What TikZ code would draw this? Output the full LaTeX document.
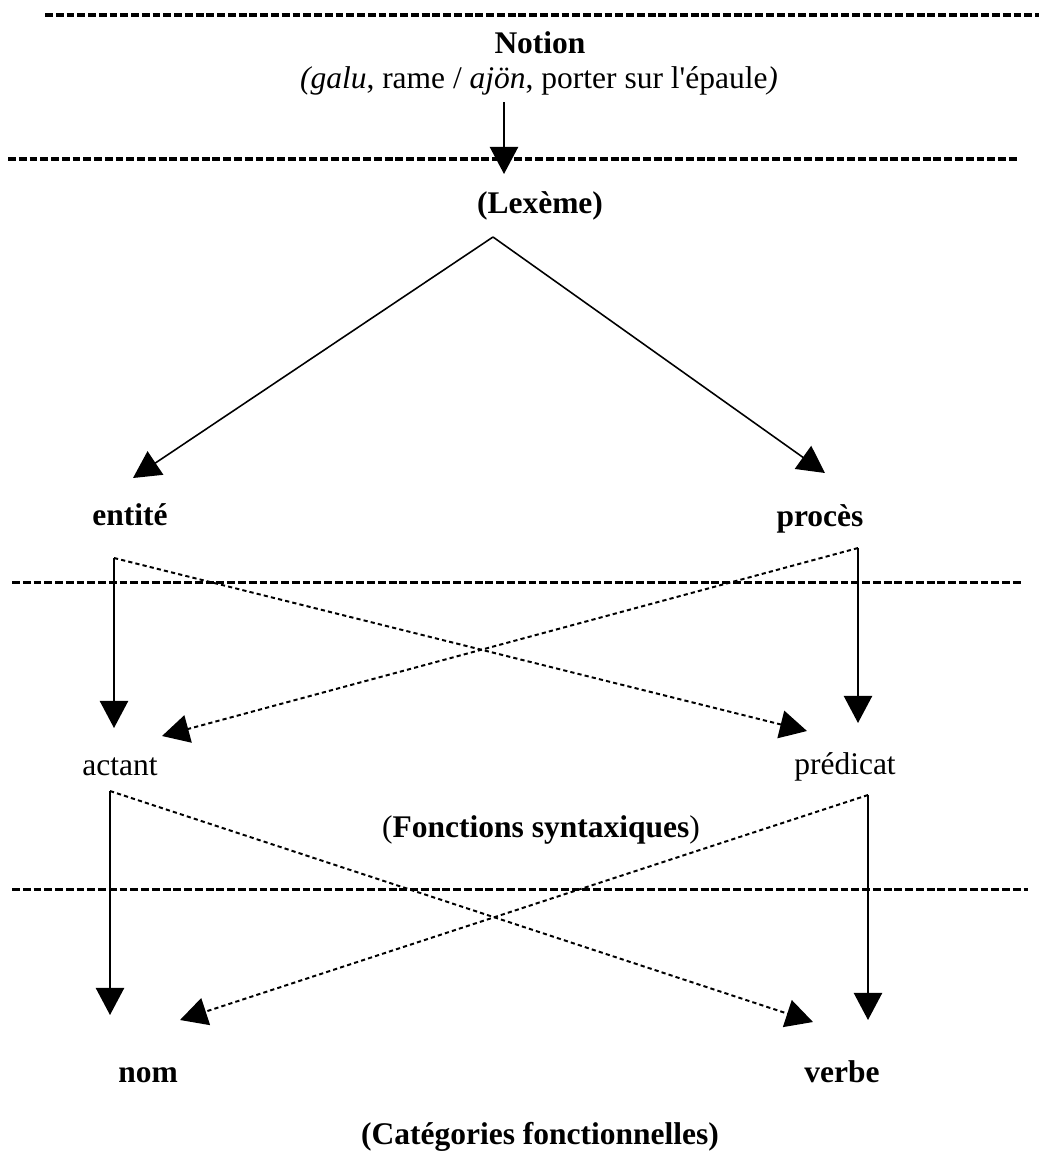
\documentclass[tikz,border=0pt]{standalone}
\usepackage{fontspec}
\setmainfont{Liberation Serif}
\usetikzlibrary{arrows.meta}
\newcommand\straightapos{{\XeTeXglyph\XeTeXglyphindex "quotesingle"\relax}}

\begin{document}
\begin{tikzpicture}[
  x=0.381pt, y=-0.381pt,
  every node/.style={inner sep=0pt, anchor=base, font=\fontsize{12}{14}\selectfont},
  bfword/.style={font=\fontsize{12}{14}\selectfont\bfseries},
  rmword/.style={font=\fontsize{12}{14}\selectfont},
  tier/.style={line width=1.15pt, dash pattern=on 3pt off 1.1pt},
  arrow/.style={-{Triangle[length=10.3pt, width=10.7pt]}, line width=0.8pt},
  slant/.style={arrow, line width=0.6pt},
  dotarrow/.style={-{Triangle[length=10.3pt, width=10.7pt]}, line width=0.75pt, dash pattern=on 1.6pt off 1.2pt}
]
  \useasboundingbox (0,0) rectangle (1039,1153);

  \draw[tier] (45,15) -- (1039,15);
  \draw[tier] (8,159) -- (1018,159);
  \draw[tier] (12,582) -- (1023,582);
  \draw[tier] (12,889) -- (1028,889);

  \node[bfword] (notion) at (540,53) {Notion};
  \node[rmword] (gloss) at (539,88) {\textit{(galu}, rame / \textit{ajön}, porter sur l\straightapos épaule\textit{)}};
  \node[bfword] (lexeme) at (540,213) {(Lexème)};
  \node[bfword] (entite) at (130,525) {entité};
  \node[bfword] (proces) at (820,526) {procès};
  \node[rmword] (actant) at (120,775) {actant};
  \node[rmword] (predicat) at (845,774) {prédicat};
  \node[rmword] (fonctions) at (541,837) {(\textbf{Fonctions syntaxiques})};
  \node[bfword] (nom) at (148,1082) {nom};
  \node[bfword] (verbe) at (842,1082) {verbe};
  \node[bfword] (categories) at (540,1144) {(Catégories fonctionnelles)};

  \coordinate (notion-out) at (504,102);
  \coordinate (lexeme-in) at (504,174);
  \coordinate (lexeme-out) at (493,237);
  \coordinate (entite-in) at (133,478);
  \coordinate (proces-in) at (825,473);
  \coordinate (entite-out) at (114,558);
  \coordinate (proces-out) at (858,548);
  \coordinate (actant-in) at (114,728);
  \coordinate (actant-side) at (162,736);
  \coordinate (predicat-in) at (858,723);
  \coordinate (predicat-side) at (807,731);
  \coordinate (actant-out) at (110,791);
  \coordinate (predicat-out) at (868,795);
  \coordinate (nom-in) at (110,1015);
  \coordinate (nom-side) at (180,1020);
  \coordinate (verbe-in) at (868,1020);
  \coordinate (verbe-side) at (813,1022);

  \draw[arrow] (notion-out) -- (lexeme-in);
  \draw[slant] (lexeme-out) -- (entite-in);
  \draw[slant] (lexeme-out) -- (proces-in);
  \draw[arrow] (entite-out) -- (actant-in);
  \draw[arrow] (proces-out) -- (predicat-in);
  \draw[dotarrow] (entite-out) -- (predicat-side);
  \draw[dotarrow] (proces-out) -- (actant-side);
  \draw[arrow] (actant-out) -- (nom-in);
  \draw[arrow] (predicat-out) -- (verbe-in);
  \draw[dotarrow] (actant-out) -- (verbe-side);
  \draw[dotarrow] (predicat-out) -- (nom-side);
\end{tikzpicture}
\end{document}
